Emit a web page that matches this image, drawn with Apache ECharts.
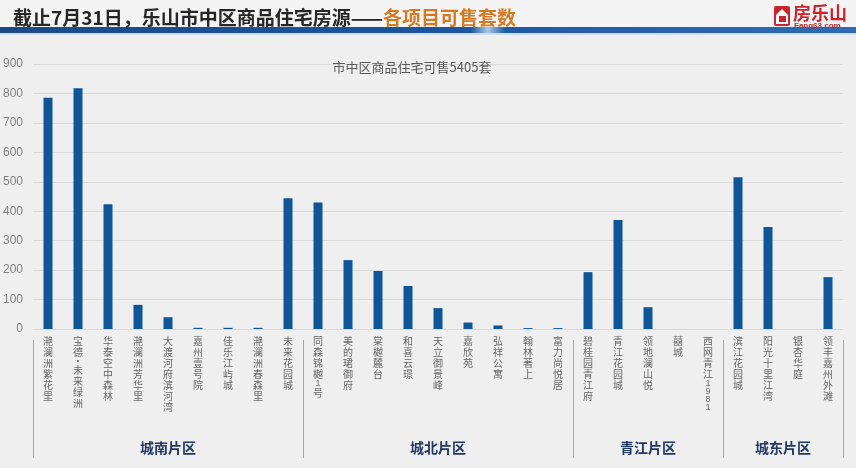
<!DOCTYPE html>
<html>
<head>
<meta charset="utf-8">
<script src="https://cdn.jsdelivr.net/npm/echarts@6/dist/echarts.min.js"></script>
<style>
  html, body { margin: 0; padding: 0; background: #efefef; }
  #main { width: 856px; height: 468px; }
</style>
</head>
<body>
<div id="main"></div>
<script>
// project names (x axis)
var projects = [
  '滟澜洲紫花里', '宝德·未来绿洲', '华泰空中森林', '滟澜洲芳华里', '大渡河府滨河湾',
  '嘉州壹号院', '佳乐江屿城', '滟澜洲春森里', '未来花园城',
  '同森锦樾1号', '美的珺御府', '棠樾麓台', '和喜云璟', '天立御景峰',
  '嘉欣苑', '弘祥公寓', '翰林著上', '富力尚悦居',
  '碧桂园青江府', '青江花园城', '领地澜山悦', '囍城', '西网青江1981',
  '滨江花园城', '阳光十里江湾', '银杏华庭', '领丰嘉州外滩'
];
// units available for sale
var units = [
  785, 818, 424, 82, 40, 4, 4, 4, 444,
  430, 234, 197, 146, 71, 22, 12, 3, 3,
  193, 370, 74, 0, 0,
  515, 346, 0, 176
];
// districts and how many projects each covers
var districts = ['城南片区', '城北片区', '青江片区', '城东片区'];
var districtCounts = [9, 9, 5, 4];

var yTicks = [0, 900, 100];

var chart = echarts.init(document.getElementById('main'));

// vertical label: one char per line, short line for the dot, digits kept tight
function stackLabel(v) {
  return v.split('').map(function (c) {
    if (c === '·') return '{dot|·}';
    if (/[0-9]/.test(c)) return '{num|' + c + '}';
    return '{c|' + c + '}';
  }).join('\n');
}

var option = {
  backgroundColor: '#efefef',
  animation: false,
  title: {
    text: '市中区商品住宅可售5405套',
    left: 407,
    top: 56,
    textAlign: 'center',
    textStyle: { fontSize: 13, fontWeight: 'normal', color: '#595959', fontFamily: 'Noto Sans CJK SC' }
  },
  grid: { left: 33, right: 13, top: 64, bottom: 139, outerBoundsMode: 'none' },
  xAxis: {
    type: 'category',
    data: projects,
    axisLine: { show: true, lineStyle: { color: '#d9d9d9' } },
    axisTick: { show: false },
    axisLabel: {
      interval: 0,
      margin: 7,
      color: '#666',
      fontSize: 10,
      lineHeight: 11,
      fontFamily: 'Noto Sans CJK SC',
      formatter: stackLabel,
      rich: {
        c: { fontSize: 10, lineHeight: 11, color: '#666', fontFamily: 'Noto Sans CJK SC' },
        dot: { fontSize: 10, lineHeight: 7, color: '#666' },
        num: { fontSize: 9, lineHeight: 8, color: '#666', fontFamily: 'Liberation Sans' }
      }
    }
  },
  yAxis: {
    type: 'value',
    min: yTicks[0],
    max: yTicks[1],
    interval: yTicks[2],
    axisLine: { show: false },
    axisTick: { show: false },
    axisLabel: { color: '#7f7f7f', fontSize: 12, margin: 10, fontFamily: 'Liberation Sans' },
    splitLine: { lineStyle: { color: '#d9d9d9' } }
  },
  series: [{
    type: 'bar',
    data: units,
    barWidth: 9,
    itemStyle: { color: '#0e5697' }
  }]
};
chart.setOption(option);

// header, logo, district separators and labels
var graphics = [
  { type: 'rect', shape: { x: 0, y: 0, width: 856, height: 27 }, style: { fill: '#f4f4f4' }, silent: true },
  {
    type: 'rect', shape: { x: 0, y: 27, width: 856, height: 6 },
    style: {
      fill: new echarts.graphic.LinearGradient(0, 0, 1, 0, [
        { offset: 0, color: '#1a4a86' },
        { offset: 0.55, color: '#1c55a0' },
        { offset: 0.57, color: '#a9c9ea' },
        { offset: 0.59, color: '#1f5aa4' },
        { offset: 1, color: '#2d6cb4' }
      ])
    },
    silent: true
  },
  { type: 'rect', shape: { x: 0, y: 33, width: 856, height: 2 }, style: { fill: '#d3dde9' }, silent: true },
  {
    type: 'text', x: 13, y: 18,
    style: {
      text: '{a|截止7月31日，乐山市中区商品住宅房源——}{b|各项目可售套数}',
      verticalAlign: 'middle',
      rich: {
        a: { fontSize: 19, fontWeight: 'bold', fill: '#262626', fontFamily: 'Noto Sans CJK SC' },
        b: { fontSize: 19, fontWeight: 'bold', fill: '#d47a22', fontFamily: 'Noto Sans CJK SC' }
      }
    }
  },
  // logo
  { type: 'rect', shape: { x: 774, y: 6, width: 16, height: 20, r: 2 }, style: { fill: '#c8242b' } },
  { type: 'polygon', shape: { points: [[776, 15], [782, 9], [788, 15], [788, 24], [776, 24]] }, style: { fill: '#fff' } },
  { type: 'rect', shape: { x: 779, y: 16, width: 7, height: 6 }, style: { fill: '#c8242b' } },
  { type: 'text', x: 793, y: 13, style: { text: '房乐山', fontSize: 18, fontWeight: 'bold', fill: '#c8242b', verticalAlign: 'middle', fontFamily: 'Noto Sans CJK SC' } },
  { type: 'text', x: 794, y: 26, style: { text: 'Fang63.com', fontSize: 8, fontWeight: 'bold', fill: '#c8242b', verticalAlign: 'middle', fontFamily: 'Liberation Sans' } }
];

var p0 = chart.convertToPixel({ xAxisIndex: 0 }, 0);
var p1 = chart.convertToPixel({ xAxisIndex: 0 }, 1);
var band = p1 - p0;
var start = 0;
for (var i = 0; i <= districts.length; i++) {
  var bx = Math.round(chart.convertToPixel({ xAxisIndex: 0 }, start) - band / 2) + 0.5;
  graphics.push({ type: 'line', shape: { x1: bx, y1: 340, x2: bx, y2: 458 }, style: { stroke: '#a6a6a6', lineWidth: 1 } });
  if (i < districts.length) {
    var mid = (start + start + districtCounts[i] - 1) / 2;
    var cx = chart.convertToPixel({ xAxisIndex: 0 }, start) + (mid - start) * band;
    graphics.push({
      type: 'text', x: cx, y: 448,
      style: { text: districts[i], fontSize: 14, fontWeight: 'bold', fill: '#1f3864', align: 'center', verticalAlign: 'middle', fontFamily: 'Noto Sans CJK SC' }
    });
    start += districtCounts[i];
  }
}
chart.setOption({ graphic: graphics });
</script>
</body>
</html>
